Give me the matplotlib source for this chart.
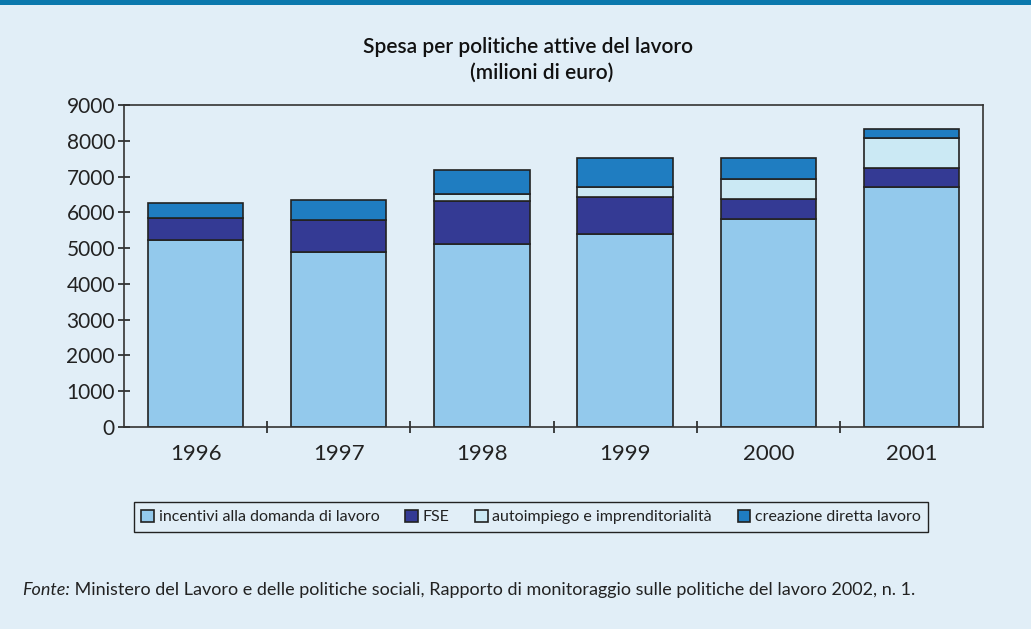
import numpy as np
import matplotlib.pyplot as plt
from matplotlib.patches import Rectangle

plt.rcParams['font.family'] = ['Lato', 'DejaVu Sans']

# dati (milioni di euro)
anni = ['1996', '1997', '1998', '1999', '2000', '2001']
incentivi = [5230, 4890, 5110, 5390, 5800, 6710]
fse = [610, 890, 1200, 1030, 570, 530]
autoimpiego = [0, 0, 190, 300, 550, 850]
creazione = [430, 570, 670, 790, 610, 230]

serie = [
    ('incentivi alla domanda di lavoro', incentivi, '#93c9ec'),
    ('FSE', fse, '#343a94'),
    ('autoimpiego e imprenditorialità', autoimpiego, '#cbe9f4'),
    ('creazione diretta lavoro', creazione, '#1f7dc1'),
]

bg = '#e1eef7'
fig = plt.figure(figsize=(10.31, 6.29), dpi=100, facecolor=bg)

# banda blu in alto
fig.patches.append(Rectangle((0, 1 - 5 / 629), 1, 5 / 629, transform=fig.transFigure,
                             facecolor='#0a78ad', edgecolor='none', zorder=0))

ax = fig.add_axes([124 / 1031, 1 - 427 / 629, (983 - 124) / 1031, (427 - 105) / 629])
ax.set_facecolor(bg)

x = np.arange(len(anni))
base = np.zeros(len(anni))
for nome, val, col in serie:
    val = np.array(val, dtype=float)
    ax.bar(x, val, 0.665, bottom=base, color=col, edgecolor='#222222', linewidth=1.2, label=nome)
    base += val

ax.set_xlim(-0.5, len(anni) - 0.5)
ax.set_ylim(0, 9000)
ax.set_yticks(np.arange(0, 9001, 1000))
ax.set_xticks(x)
ax.set_xticklabels(anni)
ax.set_xticks(np.arange(0.5, len(anni) - 0.5, 1), minor=True)
ax.tick_params(axis='x', which='major', length=0, pad=12, labelsize=16, labelcolor='#222222')
ax.tick_params(axis='x', which='minor', direction='inout', length=9, width=1.2, color='#222222')
ax.tick_params(axis='y', direction='inout', length=9, width=1.2, color='#222222',
               labelsize=15, labelcolor='#222222', pad=2)
for s in ax.spines.values():
    s.set_color('#333333')
    s.set_linewidth(1.2)

fig.text(0.512, 1 - 47 / 629, 'Spesa per politiche attive del lavoro', ha='center', va='center',
         fontsize=15, fontweight='semibold', color='#111111')
fig.text(0.525, 1 - 73 / 629, '(milioni di euro)', ha='center', va='center',
         fontsize=15, fontweight='semibold', color='#111111')

leg = fig.legend(loc='center', bbox_to_anchor=(531 / 1031, 1 - 517 / 629), ncol=4, fontsize=11.5,
                 frameon=True, fancybox=False, edgecolor='#222222', facecolor=bg, framealpha=1,
                 handlelength=0.8, handleheight=0.8, handletextpad=0.3, columnspacing=1.6,
                 borderpad=0.45)
leg.get_frame().set_linewidth(1.0)
for t in leg.get_texts():
    t.set_color('#222222')

f = fig.text(22 / 1031, 1 - 590 / 629, 'Fonte:', fontsize=13, style='italic', color='#222222',
             va='center')
ax.annotate(' Ministero del Lavoro e delle politiche sociali, Rapporto di monitoraggio sulle politiche del lavoro 2002, n. 1.',
            xy=(1, 0.5), xycoords=f, va='center', ha='left', fontsize=13, color='#222222',
            annotation_clip=False)

fig.savefig('out.png', dpi=100, facecolor=bg)
